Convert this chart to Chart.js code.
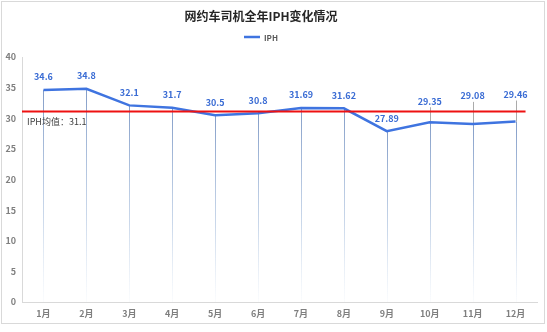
<!DOCTYPE html>
<html>
<head>
<meta charset="utf-8">
<script src="https://cdn.jsdelivr.net/npm/chart.js@4"></script>
<style>
  html, body { margin: 0; padding: 0; background: #ffffff; }
  #wrap { width: 547px; height: 332px; position: relative; }
</style>
</head>
<body>
<div id="wrap"><canvas id="c" width="547" height="332"></canvas></div>
<script>
// Monthly IPH (income per hour) for ride-hailing drivers
const chartTitle = '网约车司机全年IPH变化情况';
const seriesName = 'IPH';
const months = ['1月', '2月', '3月', '4月', '5月', '6月', '7月', '8月', '9月', '10月', '11月', '12月'];
const iph = [34.6, 34.8, 32.1, 31.7, 30.5, 30.8, 31.69, 31.62, 27.89, 29.35, 29.08, 29.46];
const iphMean = 31.1;
const meanLabel = 'IPH均值：' + iphMean;
const yMin = 0, yMax = 40, yStep = 5;

// How far each value label sits above its point (px); the last three are lifted clear of the mean line
const labelLift = [13, 13, 13, 13, 13, 13, 13, 13, 13, 21, 28, 27];

const BLUE = '#3f74e0';
const LABEL_BLUE = '#3a6cd4';
const FONT = '"Noto Sans CJK SC", "Noto Sans", sans-serif';

const decorations = {
  id: 'decorations',
  beforeDraw(chart) {
    const ctx = chart.ctx;
    ctx.save();
    // outer frame
    ctx.strokeStyle = '#d9d9d9';
    ctx.lineWidth = 1;
    ctx.strokeRect(1.5, 1.5, 543, 322);
    // title
    ctx.fillStyle = '#262626';
    ctx.font = 'bold 12px ' + FONT;
    ctx.textAlign = 'center';
    ctx.textBaseline = 'middle';
    ctx.fillText(chartTitle, 261, 16);
    // legend
    const ds = chart.data.datasets[0];
    ctx.font = 'bold 8px ' + FONT;
    const tw = ctx.measureText(ds.label).width;
    const total = 16 + 4 + tw;
    const lx = 261 - total / 2;
    ctx.strokeStyle = ds.borderColor;
    ctx.lineWidth = 2.5;
    ctx.beginPath();
    ctx.moveTo(lx, 37);
    ctx.lineTo(lx + 16, 37);
    ctx.stroke();
    ctx.fillStyle = '#595959';
    ctx.textAlign = 'left';
    ctx.fillText(ds.label, lx + 20, 37.5);
    ctx.restore();
  },
  beforeDatasetsDraw(chart) {
    const ctx = chart.ctx;
    const area = chart.chartArea;
    const meta = chart.getDatasetMeta(0);
    ctx.save();
    meta.data.forEach((pt, i) => {
      const x = Math.round(pt.x) + 0.5;
      // fading drop line to the axis
      const g = ctx.createLinearGradient(0, pt.y, 0, area.bottom);
      g.addColorStop(0, 'rgba(110,140,190,0.85)');
      g.addColorStop(0.6, 'rgba(140,170,210,0.45)');
      g.addColorStop(1, 'rgba(170,195,225,0.05)');
      ctx.strokeStyle = g;
      ctx.lineWidth = 1;
      ctx.beginPath();
      ctx.moveTo(x, pt.y);
      ctx.lineTo(x, area.bottom);
      ctx.stroke();
      // leader line for lifted labels
      if (labelLift[i] > 15) {
        ctx.strokeStyle = 'rgba(150,150,150,0.8)';
        ctx.beginPath();
        ctx.moveTo(x, pt.y - labelLift[i] + 6);
        ctx.lineTo(x, pt.y);
        ctx.stroke();
      }
    });
    ctx.restore();
  },
  afterDatasetsDraw(chart) {
    const ctx = chart.ctx;
    const area = chart.chartArea;
    const xs = chart.scales.x;
    const ys = chart.scales.y;
    const meta = chart.getDatasetMeta(0);
    ctx.save();
    // mean line
    const my = ys.getPixelForValue(iphMean);
    ctx.strokeStyle = '#ee1111';
    ctx.lineWidth = 2;
    ctx.beginPath();
    ctx.moveTo(area.left, my);
    ctx.lineTo(xs.getPixelForValue(months.length - 1) + 10, my);
    ctx.stroke();
    ctx.fillStyle = '#404040';
    ctx.font = '9px ' + FONT;
    ctx.textAlign = 'left';
    ctx.textBaseline = 'middle';
    ctx.fillText(meanLabel, area.left + 5, my + 10);
    // value labels
    ctx.fillStyle = LABEL_BLUE;
    ctx.font = 'bold 9px ' + FONT;
    ctx.textAlign = 'center';
    meta.data.forEach((pt, i) => {
      ctx.fillText(String(iph[i]), pt.x, pt.y - labelLift[i]);
    });
    ctx.restore();
  }
};

new Chart(document.getElementById('c'), {
  type: 'line',
  data: {
    labels: months,
    datasets: [{
      label: seriesName,
      data: iph,
      borderColor: BLUE,
      borderWidth: 2.5,
      pointRadius: 0,
      tension: 0,
      fill: false
    }]
  },
  options: {
    responsive: false,
    animation: false,
    layout: { padding: { top: 57, left: 1, right: 10, bottom: 10 } },
    plugins: {
      legend: { display: false },
      title: { display: false },
      tooltip: { enabled: false }
    },
    scales: {
      x: {
        offset: true,
        grid: { display: false, drawTicks: false },
        border: { display: true, color: '#d9d9d9', width: 1 },
        ticks: { color: '#7f7f7f', font: { size: 9, weight: 'bold', family: FONT }, padding: 6, maxRotation: 0, autoSkip: false },
        afterFit(scale) { scale.height = 20; }
      },
      y: {
        min: yMin,
        max: yMax,
        grid: { display: false, drawTicks: false },
        border: { display: true, color: '#d9d9d9', width: 1 },
        ticks: { stepSize: yStep, color: '#7f7f7f', font: { size: 9, weight: 'bold', family: FONT }, padding: 6 },
        afterFit(scale) { scale.width = 21; }
      }
    }
  },
  plugins: [decorations]
});
</script>
</body>
</html>
